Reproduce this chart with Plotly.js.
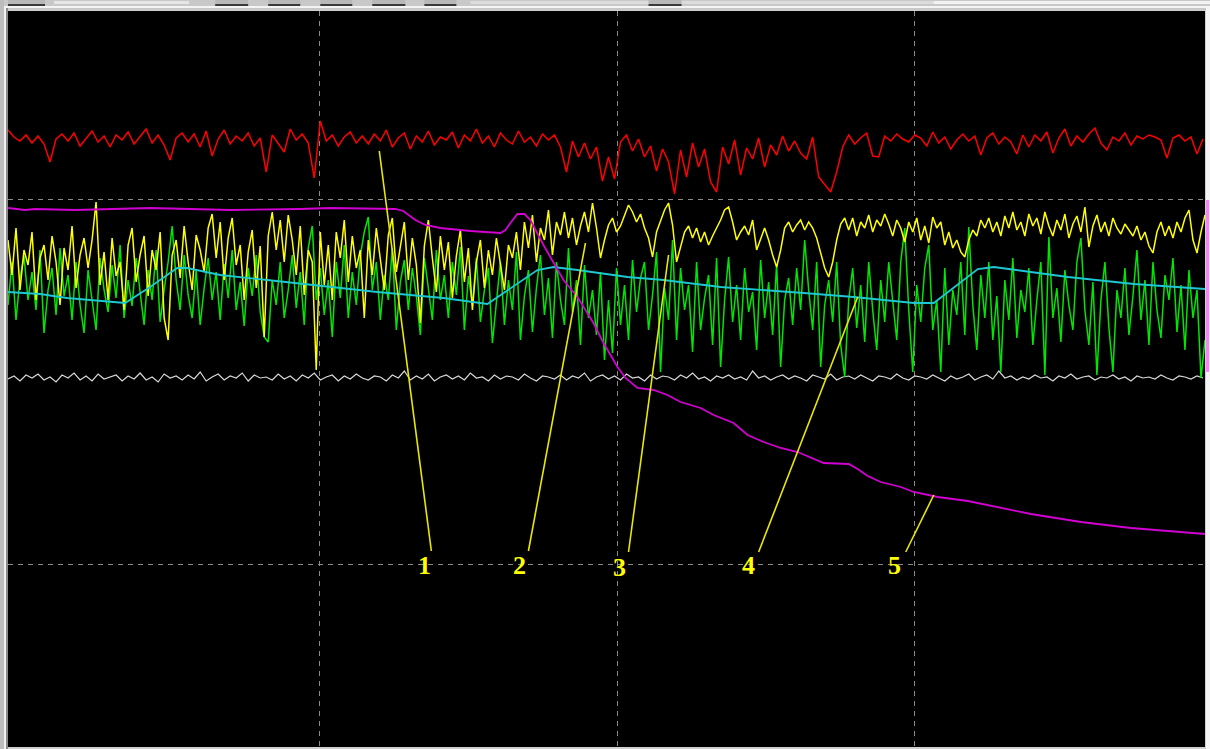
<!DOCTYPE html>
<html>
<head>
<meta charset="utf-8">
<script src="https://cdn.plot.ly/plotly-3.0.1.min.js"></script>
<style>
  html, body { margin: 0; padding: 0; background: #cfcfcf; }
  #chart { width: 1210px; height: 749px; }
</style>
</head>
<body>
<div id="chart"></div>
<script>
// Sample intervals (time units per sample)
const RED_DT = 6;
const WHITE_DT = 6;
const YELLOW_DT = 4;
const GREEN_DT = 4;

// Trace 1 (red)
const redValues = [617,610,606,612,604,611,603,585,608,613,
606,614,601,609,616,605,611,600,612,607,
615,603,610,618,604,612,602,587,609,614,
605,613,600,616,591,608,617,603,611,606,
614,601,609,575,612,604,595,618,607,613,
604,569,626,606,612,601,610,615,604,611,
603,613,606,617,600,609,614,598,611,605,
616,602,610,607,615,599,612,606,618,604,
611,600,614,607,603,616,605,610,601,613,
607,612,600,575,606,590,604,588,600,566,
590,568,605,612,596,608,590,601,576,598,
585,553,597,570,604,580,598,565,555,600,
583,607,572,599,588,609,580,602,592,611,
596,606,594,588,610,570,562,555,575,600,
612,603,609,614,591,590,611,606,613,608,
605,612,609,601,615,604,610,598,607,613,
606,611,592,609,614,603,610,605,593,612,
600,612,606,615,594,609,618,601,611,605,
613,619,604,597,610,606,614,602,611,608,
612,610,607,589,609,612,606,610,593,608];

// Baseline (white/grey)
const whiteValues = [368,371,366,372,369,373,367,370,365,372,
369,374,367,371,366,373,368,370,372,366,
371,368,374,367,370,365,373,369,371,367,
372,368,375,366,370,373,367,371,369,374,
366,372,369,370,367,373,368,371,366,372,
369,374,367,370,372,366,371,368,373,369,
367,371,370,366,372,369,376,367,371,368,
373,366,370,372,368,371,367,374,369,370,
366,372,368,371,370,367,373,369,366,371,
370,368,372,367,371,369,374,366,370,372,
368,371,367,373,369,370,366,372,368,371,
370,367,372,369,374,368,370,366,371,369,
372,368,370,367,376,369,371,367,370,372,
368,371,369,366,372,370,368,373,367,370,
371,368,372,369,366,371,370,368,373,369,
367,371,370,368,372,369,366,371,368,370,
373,367,370,372,368,376,369,371,367,370,
368,372,369,370,366,371,369,373,368,370,
371,367,370,369,372,368,370,366,371,369,
370,368,372,369,367,371,370,368,371,369];

// Trace 2 (yellow)
const yellowValues = [507,472,519,457,497,482,515,447,489,502,
467,511,485,442,499,477,521,459,492,509,
479,507,545,462,495,447,509,471,485,437,
502,519,465,492,511,451,497,477,515,429,
407,492,507,469,521,485,457,512,497,475,
519,533,489,525,467,509,529,482,502,447,
495,517,459,501,410,511,535,497,527,485,
532,507,472,521,452,497,485,377,515,462,
502,447,515,489,527,465,511,479,497,429,
507,472,519,485,457,512,529,475,499,525,
467,509,482,424,501,527,489,455,511,477,
505,449,491,517,465,499,437,485,507,459,
497,472,509,482,457,502,489,515,477,525,
499,532,485,519,507,537,492,525,512,535,
509,529,502,521,535,515,544,519,489,507,
522,529,515,521,532,542,535,525,533,519,
509,490,515,527,537,544,522,485,499,515,
521,509,519,505,515,502,511,519,527,537,
540,525,507,515,521,512,527,497,509,519,
507,492,480,497,519,525,515,522,527,517,
525,519,509,495,479,470,485,507,523,529,
517,529,511,525,519,532,515,527,521,533,
523,511,527,519,505,525,515,529,507,521,
504,530,519,525,502,515,499,507,495,490,
507,517,511,527,519,529,515,525,511,531,
519,535,517,525,511,533,521,529,513,535,
521,511,527,517,533,509,523,531,515,540,
500,521,532,515,525,511,529,519,513,523,
517,511,521,507,515,501,494,515,525,511,
521,509,525,515,529,537,507,494,515,532];

// Trace 3 (green)
const greenValues = [442,485,427,469,491,447,475,437,497,414,
457,479,432,499,451,472,427,485,442,414,
477,447,417,489,457,435,482,449,502,429,
467,441,489,455,422,477,447,497,425,457,
485,521,467,437,492,452,429,477,422,459,
489,447,475,427,483,449,497,437,465,421,
479,451,492,435,410,405,467,442,485,429,
457,492,439,475,422,499,521,447,479,432,
467,410,485,449,502,429,475,442,491,515,
530,457,485,427,472,447,499,417,465,487,
437,479,451,412,489,459,427,497,447,472,
429,485,452,500,417,471,442,489,425,457,
479,404,447,485,422,467,437,495,407,451,
477,415,459,492,432,469,409,485,447,422,
499,435,467,402,482,429,457,412,475,387,
447,394,479,422,462,407,487,435,469,485,
417,452,495,375,459,427,507,407,479,437,
462,395,485,417,449,472,402,489,380,447,
490,425,462,407,479,435,455,397,487,429,
465,412,483,380,447,469,422,479,437,507,
457,417,485,380,442,467,425,485,402,370,
447,479,419,462,405,485,437,397,467,425,
485,447,407,485,519,437,375,462,425,479,
502,417,447,375,479,402,457,432,485,412,
520,442,397,472,429,485,407,451,375,467,
427,489,409,457,435,479,402,447,485,372,
510,429,459,405,477,442,417,485,509,437,
402,465,372,447,485,419,375,457,429,479,
412,451,497,427,467,402,485,437,409,472,
447,489,415,462,397,477,429,457,369,407];

// Trace 4 (cyan): breakpoints
const cyanTimes  = [0,32,59,112,117,142,169,179,212,259,312,369,435,479,529,545,569,619,655,712,795,845,905,925,969,985,1059,1125,1196];
const cyanValues = [455,453,449,444,444,460,479,479,472,467,461,455,449,443,477,480,477,470,467,460,454,450,444,444,478,480,470,463,458];

// Trace 5 (magenta): breakpoints
const magentaTimes  = [0,17,27,67,142,222,292,322,387,395,407,417,432,462,492,497,502,509,516,522,535,555,569,585,595,609,617,629,645,659,672,692,705,725,739,755,772,789,815,840,849,859,872,892,905,929,959,989,1022,1072,1122,1196];
const magentaValues = [539,537,538,537,539,537,538,539,538,536,527,522,519,516,514,517,524,533,533,527,502,467,450,424,404,380,369,359,357,352,345,339,332,324,312,305,299,295,284,283,278,271,265,260,255,250,246,240,233,225,219,213];

// Trace labels
const labelTexts = ['1','2','3','4','5'];

// ---- Geometry / styling (not data) ----
const X_RANGE = [0, 1196];
const Y_RANGE = [0, 736];
const X_GRID = [311, 609, 906];
const Y_GRID = [183, 548];

const labelPos = [[416,182],[511,182],[611,180],[740,182],[886,182]];
const leaders = [
  [423,196,371,596],
  [520,196,577,504],
  [620,195,660,492],
  [750,195,849,450],
  [897,195,925,252]
];

const timesFor = (arr, dt) => arr.map((_, i) => i * dt);

function tr(x, y, color, w) {
  return { x: x, y: y, type: 'scatter', mode: 'lines',
           line: { color: color, width: w }, hoverinfo: 'skip', showlegend: false };
}

const data = [
  tr(timesFor(whiteValues, WHITE_DT), whiteValues, '#d8d8d8', 1.2),
  tr(timesFor(greenValues, GREEN_DT), greenValues, '#00e600', 1.5),
  tr(timesFor(yellowValues, YELLOW_DT), yellowValues, '#ffff00', 1.5),
  tr(cyanTimes, cyanValues, '#1ec8d2', 1.8),
  tr(timesFor(redValues, RED_DT), redValues, '#ff0000', 1.5),
  tr(magentaTimes, magentaValues, '#d200d2', 1.8)
];

const L = 8, T = 11, PW = 1196, PH = 736;
const px = v => (v - L) / PW;
const py = v => (T + PH - v) / PH;
function prect(x0, y0, x1, y1, fill) {
  return { type: 'rect', xref: 'paper', yref: 'paper', layer: 'above',
           x0: px(x0), x1: px(x1), y0: py(y0), y1: py(y1),
           fillcolor: fill, line: { width: 0 } };
}

const shapes = [];
leaders.forEach(l => shapes.push({
  type: 'line', xref: 'x', yref: 'y', x0: l[0], y0: l[1], x1: l[2], y1: l[3],
  line: { color: '#e8e800', width: 1.6 }
}));
shapes.push(prect(0, 0, 1210, 10, '#c8c8c8'));
shapes.push(prect(54, 1, 189, 4, '#e6e6e6'));
shapes.push(prect(470, 1, 1210, 4, '#dcdcdc'));
shapes.push(prect(933, 1, 1210, 4, '#f2f2f2'));
[[8,45],[215,248],[268,300],[320,352],[372,405],[424,456],[648,681]].forEach(b => {
  shapes.push(prect(b[0], 0, b[1], 4, '#b8b8b8'));
  shapes.push(prect(b[0], 4, b[1], 6, '#3a3a3a'));
});
shapes.push(prect(0, 6, 1210, 8, '#f4f4f4'));
shapes.push(prect(0, 0, 4, 749, '#bdbdbd'));
shapes.push(prect(4, 8, 6, 749, '#f0f0f0'));
shapes.push(prect(6, 8, 8, 749, '#8a8a8a'));
shapes.push(prect(1205, 8, 1210, 749, '#f4f4f4'));
shapes.push(prect(1205, 200, 1208, 372, '#ff80ff'));

const annotations = labelTexts.map((t, i) => ({
  x: labelPos[i][0], y: labelPos[i][1], xref: 'x', yref: 'y',
  text: '<b>' + t + '</b>', showarrow: false,
  xanchor: 'center', yanchor: 'middle',
  font: { family: 'Liberation Serif, DejaVu Serif, serif', size: 26, color: '#ffff00' }
}));

const axisCommon = {
  showgrid: true, gridcolor: '#8a8a8a', gridwidth: 1, griddash: '5px,5px',
  zeroline: false, showline: false, showticklabels: false, ticks: '',
  fixedrange: true
};

const layout = {
  width: 1210, height: 749,
  margin: { l: 8, r: 5, t: 11, b: 2, pad: 0 },
  paper_bgcolor: '#cfcfcf',
  plot_bgcolor: '#000000',
  showlegend: false,
  xaxis: Object.assign({}, axisCommon, { range: X_RANGE, tickvals: X_GRID }),
  yaxis: Object.assign({}, axisCommon, { range: Y_RANGE, tickvals: Y_GRID }),
  shapes: shapes,
  annotations: annotations
};

Plotly.newPlot('chart', data, layout, { displayModeBar: false, staticPlot: true });
</script>
</body>
</html>
